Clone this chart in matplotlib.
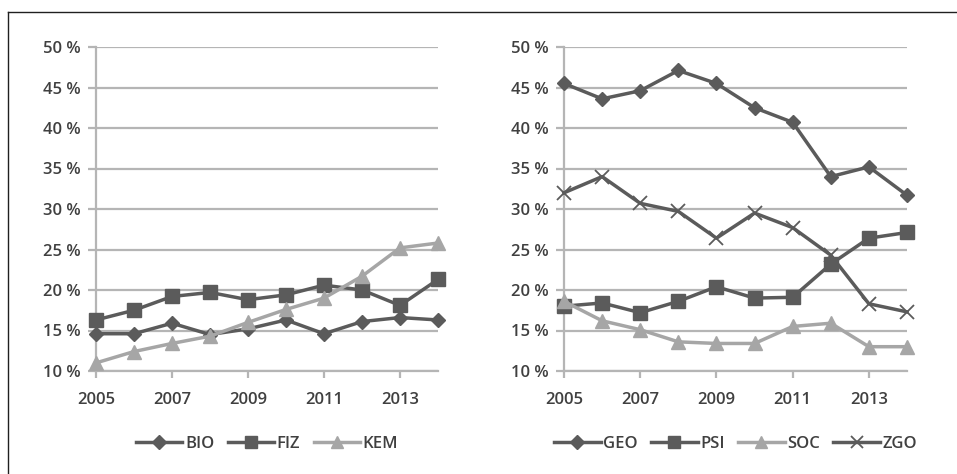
import numpy as np
import matplotlib.pyplot as plt
from matplotlib.lines import Line2D

years = [2005, 2006, 2007, 2008, 2009, 2010, 2011, 2012, 2013, 2014]

# left panel
bio = [14.6, 14.6, 15.9, 14.5, 15.2, 16.3, 14.6, 16.1, 16.6, 16.3]
fiz = [16.3, 17.5, 19.2, 19.7, 18.8, 19.4, 20.6, 20.0, 18.1, 21.3]
kem = [11.0, 12.4, 13.4, 14.3, 16.0, 17.6, 19.0, 21.7, 25.2, 25.8]

# right panel
geo = [45.5, 43.6, 44.6, 47.1, 45.5, 42.5, 40.7, 34.0, 35.2, 31.7]
psi = [18.0, 18.4, 17.2, 18.6, 20.4, 19.0, 19.1, 23.2, 26.4, 27.1]
soc = [18.6, 16.2, 15.1, 13.6, 13.4, 13.4, 15.5, 15.9, 13.0, 13.0]
zgo = [32.0, 34.0, 30.7, 29.7, 26.4, 29.5, 27.7, 24.3, 18.3, 17.3]

yticks = [10, 15, 20, 25, 30, 35, 40, 45, 50]
xticks = [2005, 2007, 2009, 2011, 2013]

dark = '#5b5b5b'
light = '#a6a6a6'
grid = '#b5b5b5'
txt = '#404040'

plt.rcParams['font.family'] = ['Open Sans', 'DejaVu Sans']

W, H = 957, 474
fig = plt.figure(figsize=(W / 100, H / 100), dpi=100)

# outer frame (top and left only, as in the scan)
fig.add_artist(Line2D([8 / W, 1], [1 - 12 / H, 1 - 12 / H], color='#202020', lw=1.0))
fig.add_artist(Line2D([8 / W, 8 / W], [0, 1 - 12 / H], color='#202020', lw=1.0))

bottom = 1 - 371 / H
height = (371 - 47) / H


def style_axes(ax):
    ax.set_xlim(2005, 2014)
    ax.set_ylim(10, 50)
    ax.set_yticks(yticks)
    ax.set_yticklabels([f'{v} %' for v in yticks])
    ax.set_xticks(xticks)
    ax.set_xticklabels([str(v) for v in xticks])
    for s in ['top', 'right']:
        ax.spines[s].set_visible(False)
    for s in ['left', 'bottom']:
        ax.spines[s].set_color(grid)
        ax.spines[s].set_linewidth(1.6)
    ax.yaxis.grid(True, color=grid, lw=1.6)
    ax.set_axisbelow(True)
    ax.tick_params(axis='y', length=6, width=1.6, color=grid, labelcolor=txt,
                   labelsize=12, pad=5)
    ax.tick_params(axis='x', length=5, width=1.6, color=grid, labelcolor=txt,
                   labelsize=12, pad=10)
    for lab in ax.get_xticklabels() + ax.get_yticklabels():
        lab.set_fontweight('semibold')


def series(ax, y, marker, color, ms, label, mew=1.0):
    ax.plot(years, y, color=color, lw=2.5, marker=marker, ms=ms, mfc=color,
            mec=color, mew=mew, label=label, clip_on=False, zorder=3)


def add_legend(ax, n):
    ax.legend(loc='upper center', bbox_to_anchor=(0.5, -0.155), ncol=n, frameon=False,
              prop={'size': 12, 'weight': 'semibold'}, labelcolor=txt, handlelength=2.8,
              columnspacing=0.8, handletextpad=0.15, markerscale=0.9)


ax1 = fig.add_axes([96 / W, bottom, (438 - 96) / W, height])
style_axes(ax1)
series(ax1, bio, 'D', dark, 7.5, 'BIO')
series(ax1, fiz, 's', dark, 10, 'FIZ')
series(ax1, kem, '^', light, 10, 'KEM')
add_legend(ax1, 3)

ax2 = fig.add_axes([564 / W, bottom, (907 - 564) / W, height])
style_axes(ax2)
series(ax2, geo, 'D', dark, 7.5, 'GEO')
series(ax2, psi, 's', dark, 10, 'PSI')
series(ax2, soc, '^', light, 10, 'SOC')
series(ax2, zgo, 'x', dark, 10, 'ZGO', mew=1.3)
add_legend(ax2, 4)

fig.savefig('out.png', dpi=100)
